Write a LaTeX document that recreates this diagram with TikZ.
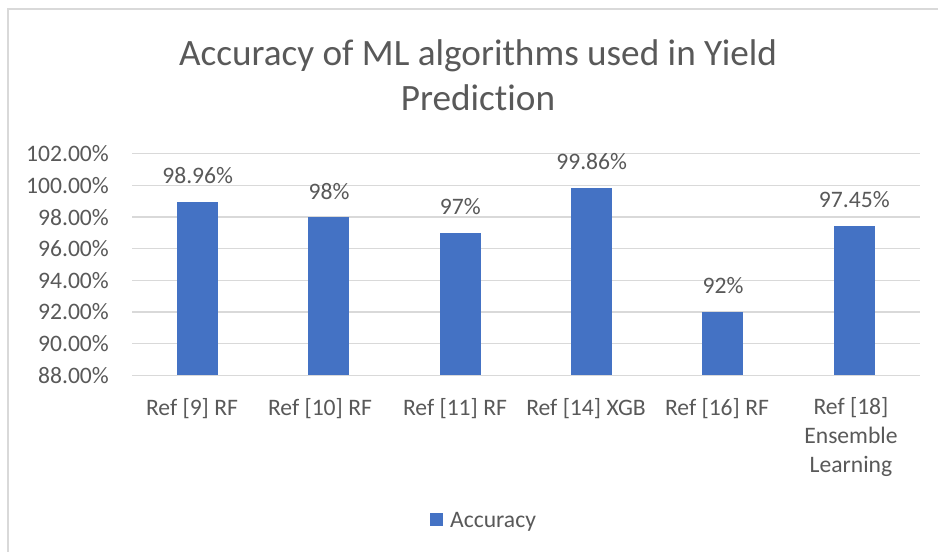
\documentclass[tikz,border=0pt]{standalone}
\usepackage{fontspec}
\setmainfont{Carlito}[Ligatures={NoCommon}]
\definecolor{txt}{HTML}{595959}
\definecolor{grid}{HTML}{D9D9D9}
\definecolor{barc}{HTML}{4472C4}
\begin{document}
\begin{tikzpicture}[x=1pt,y=-1pt,
  lab/.style={font=\fontsize{23.6}{28.6}\selectfont, text=txt, inner sep=0pt},
  ttl/.style={font=\fontsize{37.2}{45}\selectfont, text=txt, inner sep=0pt},
  gridline/.style={draw=grid, line width=1.3pt},
  barbox/.style={fill=barc, draw=none}]
\useasboundingbox (0,0) rectangle (938,552);
\fill[white] (0,0) rectangle (938,552);
% chart border (top and left visible)
\draw[draw=grid, line width=1.5pt] (938,9) -- (8,9) -- (8,552);
% title
\node[ttl, anchor=base] (t1) at (478,65) {Accuracy of ML algorithms used in Yield};
\node[ttl, anchor=base] (t2) at (478,110) {Prediction};
% gridlines and tick labels
\foreach \v/\l in {88/88.00\%,90/90.00\%,92/92.00\%,94/94.00\%,96/96.00\%,98/98.00\%,100/100.00\%,102/102.00\%}{
  \pgfmathsetmacro{\yy}{375.3-(\v-88)*15.83}
  \draw[gridline] (132,\yy) -- (920,\yy);
  \node[lab, anchor=base east] (tick\v) at (109,\yy+8) {\l};
}
% bars
\foreach \i/\val/\txtl in {0/98.96/98.96\%,1/98/98\%,2/97/97\%,3/99.86/99.86\%,4/92/92\%,5/97.45/97.45\%}{
  \pgfmathsetmacro{\cx}{132+(\i+0.5)*131.33}
  \pgfmathsetmacro{\yt}{375.3-(\val-88)*15.83}
  \path[barbox] (\cx-20.5,\yt) rectangle (\cx+20.5,375.3);
  \node[lab, anchor=base] (dl\i) at (\cx,\yt-18) {\txtl};
}
\draw[gridline] (132,375.3) -- (920,375.3);
% category labels
\node[lab, anchor=base] (c0) at (192,415) {Ref [9] RF};
\node[lab, anchor=base] (c1) at (320,415) {Ref [10] RF};
\node[lab, anchor=base] (c2) at (455,415) {Ref [11] RF};
\node[lab, anchor=base] (c3) at (586,415) {Ref [14] XGB};
\node[lab, anchor=base] (c4) at (717,415) {Ref [16] RF};
\node[lab, anchor=base] (c5a) at (851,414) {Ref [18]};
\node[lab, anchor=base] (c5b) at (851,443) {Ensemble};
\node[lab, anchor=base] (c5c) at (851,472) {Learning};
% legend
\path[barbox] (430,513) rectangle (443,526);
\node[lab, anchor=base west] (leg) at (450,527) {Accuracy};
\end{tikzpicture}
\end{document}
